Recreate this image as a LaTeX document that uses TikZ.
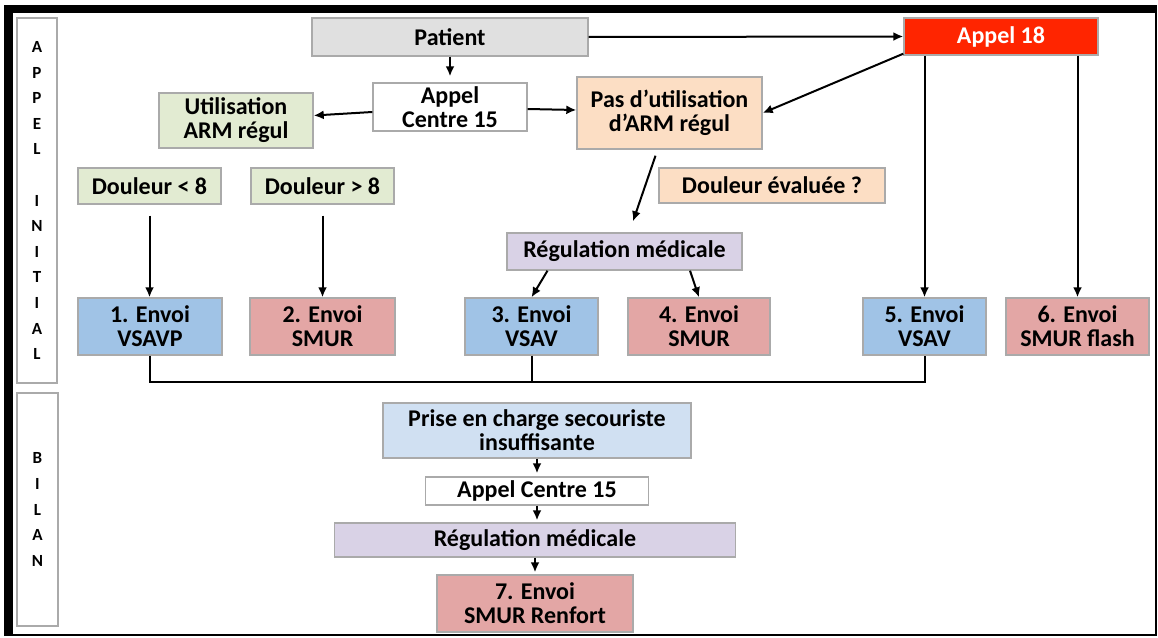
\documentclass[tikz,border=0pt]{standalone}
\usepackage{fontspec}
\setmainfont{Carlito}
\usetikzlibrary{arrows.meta, calc}
\definecolor{patientgray}{RGB}{224, 224, 224}
\definecolor{appelred}{RGB}{255, 37, 0}
\definecolor{armgreen}{RGB}{226, 235, 210}
\definecolor{peach}{RGB}{252, 222, 196}
\definecolor{regulpurple}{RGB}{217, 210, 230}
\definecolor{vsavblue}{RGB}{160, 195, 230}
\definecolor{smurred}{RGB}{227, 166, 165}
\definecolor{priseblue}{RGB}{208, 224, 242}
\definecolor{bordergray}{RGB}{170, 170, 170}

\begin{document}
\begin{tikzpicture}[
    x=1pt, y=-1pt,
    font=\fontsize{24}{24}\selectfont\bfseries,
    box/.style={draw=bordergray, line width=1.4pt, rectangle, align=center, inner sep=0pt},
    dim/.style 2 args={minimum width=#1pt, minimum height=#2pt},
    side/.style={draw=bordergray, line width=1.4pt, fill=white, align=center, inner sep=0pt,
                 font=\fontsize{17}{25.6}\selectfont\bfseries},
    arrow/.style={-{Latex[length=10pt,width=9pt]}, line width=2pt, black},
    link/.style={line width=2pt, black}
]
    \useasboundingbox (0,0) rectangle (1158,637);
    % Frame
    \fill[black] (4,5) rectangle (1157,636);
    \fill[white] (13,13) rectangle (1155,634);
    \node[side, dim={40}{365}] (initial) at (37,200.5) {A\\P\\P\\E\\L\\[25.6pt]I\\N\\I\\T\\I\\A\\L};
    \node[side, dim={41}{233}] (bilan) at (37.5,509.5) {B\\I\\L\\A\\N};

    % Nodes
    \node[box, dim={276}{38}, fill=patientgray] (patient) at (450,37) {Patient};
    \node[box, dim={194}{37}, fill=appelred, text=white] (appel18) at (1001,36.5) {Appel 18};
    \node[box, dim={154}{48}, fill=white] (centre15) at (450,107) {Appel\\Centre 15};
    \node[box, dim={154}{55}, fill=armgreen] (util) at (236,120.5) {Utilisation\\ARM régul};
    \node[box, dim={185}{72}, fill=peach] (pas) at (669.5,113) {Pas d’utilisation\\d’ARM régul};
    \node[box, dim={143}{36}, fill=armgreen] (dinf) at (149.5,186) {Douleur < 8};
    \node[box, dim={143}{36}, fill=armgreen] (dsup) at (322.5,186) {Douleur > 8};
    \node[box, dim={226}{35}, fill=peach] (deval) at (772,185.5) {Douleur évaluée ?};
    \node[box, dim={235}{37}, fill=regulpurple] (regul) at (624.5,251.5) {Régulation médicale};
    \node[box, dim={144}{57}, fill=vsavblue] (env1) at (150,326.5) {1. Envoi\\VSAVP};
    \node[box, dim={145}{57}, fill=smurred] (env2) at (322.5,326.5) {2. Envoi\\SMUR};
    \node[box, dim={133}{57}, fill=vsavblue] (env3) at (531.5,326.5) {3. Envoi\\VSAV};
    \node[box, dim={142}{57}, fill=smurred] (env4) at (699,326.5) {4. Envoi\\SMUR};
    \node[box, dim={123}{57}, fill=vsavblue] (env5) at (924.5,326.5) {5. Envoi\\VSAV};
    \node[box, dim={143}{57}, fill=smurred] (env6) at (1077.5,326.5) {6. Envoi\\SMUR flash};
    \node[box, dim={308}{55}, fill=priseblue] (prise) at (537,430.5) {Prise en charge secouriste\\insuffisante};
    \node[box, dim={223}{28}, fill=white] (centreb) at (537,491) {Appel Centre 15};
    \node[box, dim={401}{34}, fill=regulpurple] (regulb) at (535,540) {Régulation médicale};
    \node[box, dim={196}{57}, fill=smurred] (env7) at (535,603.5) {7. Envoi\\SMUR Renfort};
    \coordinate (bus) at (0,382);

    % Arrows
    \draw[arrow] (patient.east) -- (appel18.west);
    \draw[arrow, shorten >=6pt] (patient.south) -- (centre15.north);
    \draw[arrow] ([yshift=-5pt]centre15.west) -- ([yshift=5pt]util.east);
    \draw[arrow] ([yshift=-2pt]centre15.east) -- ([yshift=3pt]pas.west);
    \draw[arrow] ([yshift=2pt]appel18.south west) -- (pas.east);
    \draw[arrow] (appel18.south -| env5.north) -- (env5.north);
    \draw[arrow] (appel18.south -| env6.north) -- (env6.north);
    \draw[arrow] ([xshift=-14pt, yshift=-6pt]pas.south) -- ([xshift=8.5pt, yshift=11pt]regul.north);
    \draw[arrow, shorten <=11pt] (dinf.south) -- (dinf.south |- env1.north);
    \draw[arrow, shorten <=11pt] (dsup.south) -- (dsup.south |- env2.north);
    \draw[arrow] ([xshift=-77pt]regul.south) -- (env3.north);
    \draw[arrow] ([xshift=65.5pt]regul.south) -- (env4.north);
    \draw[link] (env1.south) |- (bus -| env5.south) -- (env5.south);
    \draw[link] (env3.south) -- (env3.south |- bus);
    \draw[arrow, shorten >=3pt] (prise.south) -- (prise.south |- centreb.north);
    \draw[arrow, shorten >=2pt] (centreb.south) -- (centreb.south |- regulb.north);
    \draw[arrow, shorten >=2pt] (regulb.south) -- (regulb.south |- env7.north);
\end{tikzpicture}
\end{document}
